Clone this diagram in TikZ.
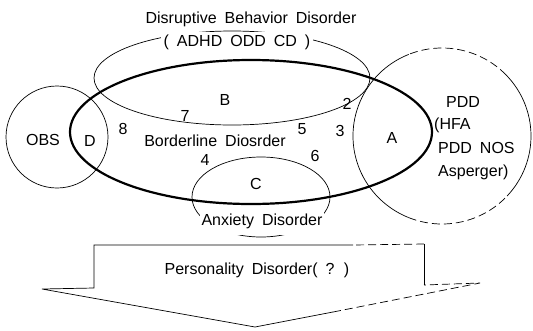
\documentclass[tikz,border=0pt]{standalone}
\usepackage{fontspec}
\setmainfont{Liberation Sans}[WordSpace=1.8]
\usetikzlibrary{calc}
\begin{document}
\begin{tikzpicture}[x=1pt,y=-1pt,
  lbl/.style={font=\fontsize{16}{19}\selectfont, inner sep=1pt},
  thinl/.style={line width=0.7pt},
  thickl/.style={line width=2.2pt},
  dashl/.style={line width=0.7pt, dash pattern=on 8pt off 4pt}]
\useasboundingbox (0,0) rectangle (533,330);
% sets
\draw[thinl] (232,78) ellipse [x radius=138pt, y radius=47pt];
\draw[thinl] (57,137) circle [radius=51pt];
\draw[thinl] (261,197) ellipse [x radius=69pt, y radius=40pt];
% PDD circle, partly broken
\coordinate (pc) at (442,136);
\draw[thinl] ($(pc)+(112:89pt and 88pt)$) arc [start angle=112, end angle=248, x radius=89pt, y radius=88pt];
\draw[dashl] ($(pc)+(248:89pt and 88pt)$) arc [start angle=248, end angle=317, x radius=89pt, y radius=88pt];
\draw[thinl] ($(pc)+(317:89pt and 88pt)$) arc [start angle=317, end angle=404, x radius=89pt, y radius=88pt];
\draw[dashl] ($(pc)+(44:89pt and 88pt)$) arc [start angle=44, end angle=112, x radius=89pt, y radius=88pt];
% borderline
\draw[thickl] (251,132) ellipse [x radius=181pt, y radius=72pt];
% arrow
\coordinate (t1) at (353,245);
\coordinate (tl) at (94,245);
\coordinate (bl) at (94,288);
\coordinate (wl) at (42,289);
\coordinate (tip) at (255,327);
\coordinate (dr) at (333,312);
\coordinate (wr) at (480,283);
\coordinate (br) at (424,285);
\coordinate (tr) at (424,244);
\draw[thinl] (t1) -- (tl) -- (bl) -- (wl) -- (tip) -- (dr);
\draw[dashl] (dr) -- (wr) -- (br);
\draw[thinl] (br) -- (tr);
\draw[dashl] (tr) -- (t1);
% labels
\node[lbl] (dis) at (251,19) {Disruptive Behavior Disorder};
\node[lbl, fill=white, inner xsep=3pt, inner ysep=3pt] (adhd) at (237,42) {( ADHD ODD CD )};
\node[lbl] (B) at (225,100) {B};
\node[lbl] (n7) at (185,116) {7};
\node[lbl] (n2) at (347,104) {2};
\node[lbl] (n8) at (123,129) {8};
\node[lbl] (n5) at (302,129) {5};
\node[lbl] (n3) at (340,131) {3};
\node[lbl] (obs) at (43,140) {OBS};
\node[lbl] (D) at (90,141) {D};
\node[lbl] (bord) at (215,141) {Borderline Diosrder};
\node[lbl] (A) at (392,138) {A};
\node[lbl] (n4) at (205,160) {4};
\node[lbl] (n6) at (315,156) {6};
\node[lbl] (C) at (256,184) {C};
\node[lbl, fill=white, minimum height=27pt, inner xsep=2pt] (anx) at (262,221.5) {Anxiety Disorder};
\node[lbl, anchor=west] (p1) at (445,102) {PDD};
\node[lbl, anchor=west] (p2) at (433,125) {(HFA};
\node[lbl, anchor=west] (p3) at (437,148) {PDD NOS};
\node[lbl, anchor=west] (p4) at (437,172) {Asperger)};
\node[lbl] (pers) at (257,270) {Personality Disorder( ? )};
\end{tikzpicture}
\end{document}
